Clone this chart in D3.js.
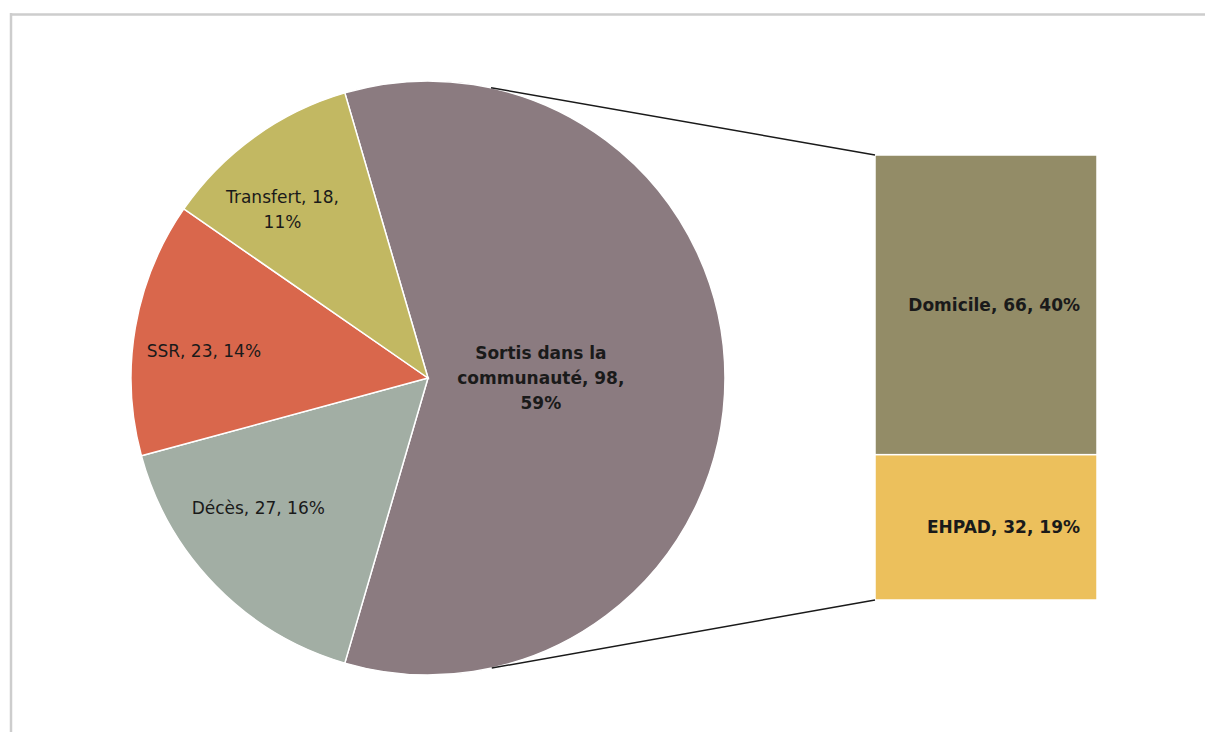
<!DOCTYPE html>
<html>
<head>
<meta charset="utf-8">
<script src="https://cdn.jsdelivr.net/npm/d3@7"></script>
<style>
  html, body { margin: 0; padding: 0; background: #fff; }
  svg { display: block; }
  text { font-family: "DejaVu Sans", "Open Sans", sans-serif; fill: #1a1a1a; }
</style>
</head>
<body>
<svg id="chart" width="1205" height="732"></svg>
<script>
// Pie slices (clockwise from the split slice)
const pieCategories = ["Sortis dans la communauté", "Décès", "SSR", "Transfert"];
const pieValues = [98, 27, 23, 18];
const pieLabels = [
  ["Sortis dans la", "communauté, 98,", "59%"],
  ["Décès, 27, 16%"],
  ["SSR, 23, 14%"],
  ["Transfert, 18,", "11%"]
];
const pieColors = ["#8b7b80", "#a2aea4", "#d9674c", "#c2b862"];

// Breakdown of the split slice
const barCategories = ["Domicile", "EHPAD"];
const barValues = [66, 32];
const barLabels = ["Domicile, 66, 40%", "EHPAD, 32, 19%"];
const barColors = ["#938c67", "#ecc05c"];

const svg = d3.select("#chart");

// frame edges
svg.append("line").attr("x1", 10).attr("x2", 1205).attr("y1", 14.5).attr("y2", 14.5)
  .attr("stroke", "#cdcdcd").attr("stroke-width", 2.5);
svg.append("line").attr("x1", 11).attr("x2", 11).attr("y1", 13).attr("y2", 732)
  .attr("stroke", "#cdcdcd").attr("stroke-width", 2.5);

const cx = 428, cy = 378, r = 297;
const total = d3.sum(pieValues);
const splitSpan = pieValues[0] / total * 2 * Math.PI;
const start = Math.PI / 2 - splitSpan / 2;

const pie = d3.pie().sort(null).value(d => d)
  .startAngle(start).endAngle(start + 2 * Math.PI);
const arcs = pie(pieValues);
const arc = d3.arc().innerRadius(0).outerRadius(r);

const g = svg.append("g").attr("transform", `translate(${cx},${cy})`);
g.selectAll("path").data(arcs).enter().append("path")
  .attr("d", arc)
  .attr("fill", (d, i) => pieColors[i])
  .attr("stroke", "#ffffff").attr("stroke-width", 1.5);

// label anchors: fraction of the radius and an angular nudge (degrees) from each slice's mid angle
const labelRadius = [0.38, 0.72, 0.76, 0.75];
const labelNudge = [0, 7, -3, -5];
const labelBold = [true, false, false, false];
const lineH = 25;
arcs.forEach((a, i) => {
  const mid = (a.startAngle + a.endAngle) / 2 + labelNudge[i] * Math.PI / 180;
  const lr = r * labelRadius[i];
  const x = Math.sin(mid) * lr, y = -Math.cos(mid) * lr;
  const lines = pieLabels[i];
  const t = g.append("text")
    .attr("text-anchor", "middle")
    .attr("font-size", 17)
    .attr("font-weight", labelBold[i] ? "bold" : "normal");
  lines.forEach((ln, k) => {
    t.append("tspan").attr("x", x)
      .attr("y", y + (k - (lines.length - 1) / 2) * lineH + 6)
      .text(ln);
  });
});

// stacked bar of the split slice
const barX = 875, barW = 222, barTop = 155, barBottom = 600;
const yScale = d3.scaleLinear().domain([0, d3.sum(barValues)]).range([barTop, barBottom]);
const stacks = [];
let acc = 0;
barValues.forEach(v => { stacks.push([acc, acc + v]); acc += v; });

svg.selectAll("rect.bar").data(stacks).enter().append("rect")
  .attr("class", "bar")
  .attr("x", barX).attr("width", barW)
  .attr("y", d => yScale(d[0]))
  .attr("height", d => yScale(d[1]) - yScale(d[0]))
  .attr("fill", (d, i) => barColors[i])
  .attr("stroke", "#ffffff").attr("stroke-width", 1.5);

svg.selectAll("text.barlabel").data(stacks).enter().append("text")
  .attr("class", "barlabel")
  .attr("x", barX + 205)
  .attr("y", d => (yScale(d[0]) + yScale(d[1])) / 2 + 6)
  .attr("text-anchor", "end")
  .attr("font-size", 17).attr("font-weight", "bold")
  .text((d, i) => barLabels[i]);

// connector lines: from just past the tangent point on the pie to the bar corners
function tangentPoint(px, py, upper) {
  const dx = px - cx, dy = py - cy;
  const d = Math.hypot(dx, dy);
  const base = Math.atan2(dy, dx);
  const off = Math.acos(r / d) - 0.04;
  const ang = upper ? base - off : base + off;
  return [cx + r * Math.cos(ang), cy + r * Math.sin(ang)];
}
[[yScale(0), true], [yScale(d3.sum(barValues)), false]].forEach(([py, up]) => {
  const [tx, ty] = tangentPoint(barX, py, up);
  svg.append("line")
    .attr("x1", tx).attr("y1", ty).attr("x2", barX).attr("y2", py)
    .attr("stroke", "#1a1a1a").attr("stroke-width", 1.5);
});
</script>
</body>
</html>
